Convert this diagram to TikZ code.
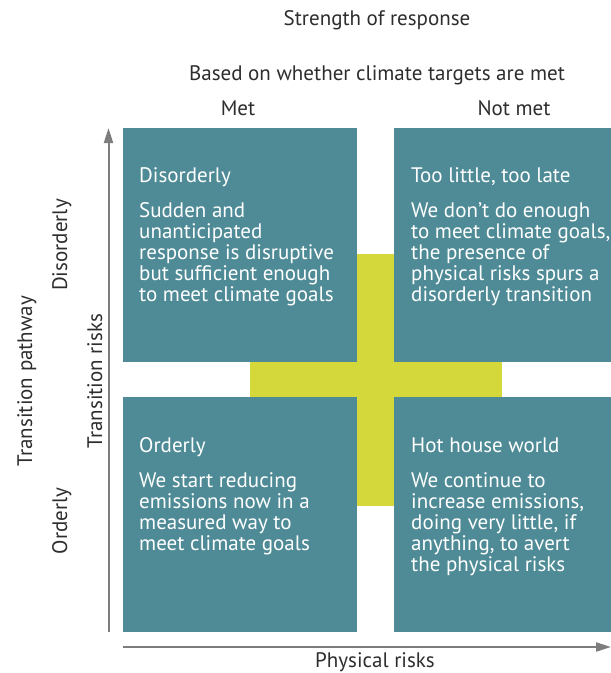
\documentclass[tikz,border=0pt]{standalone}
\usepackage{fontspec}
\setmainfont{PT Sans}
\usetikzlibrary{arrows.meta}
\definecolor{teal}{RGB}{78,139,150}
\definecolor{yell}{RGB}{212,216,58}
\definecolor{axisgray}{RGB}{125,125,125}
\definecolor{labgray}{RGB}{45,45,45}
\newcommand\qblock[2]{\vtop{\baselineskip=21pt\lineskiplimit=-10pt\hbox{#1}\vskip14pt#2}}
\newcommand\ql[1]{\hbox{#1}}
\tikzset{
  qbox/.style={fill=teal, draw=none, anchor=north west, minimum width=234pt, minimum height=234pt, inner sep=0pt},
  qtext/.style={text=white, anchor=base west, inner sep=0pt, font=\fontsize{21}{21}\selectfont},
  lab/.style={text=labgray, anchor=base, inner sep=0pt, font=\fontsize{21}{21}\selectfont},
  rlab/.style={lab, rotate=90},
  axis/.style={draw=axisgray, line width=2pt, -{Triangle[width=9pt,length=15pt]}}
}
\begin{document}
\begin{tikzpicture}[x=1pt,y=-1pt]
\useasboundingbox (0,0) rectangle (611,673);
% yellow square behind
\node[fill=yell, minimum size=252pt, inner sep=0pt] (cross) at (375.5,379.5) {};
% boxes
\node[qbox] (tl) at (123,128) {};
\node[qbox, minimum width=217pt] (tr) at (394,128) {};
\node[qbox, minimum height=235pt] (bl) at (123,397) {};
\node[qbox, minimum width=217pt, minimum height=235pt] (br) at (394,397) {};
% box texts
\node[qtext] (tlt) at ([shift={(16,54)}]tl.north west) {\qblock{Disorderly}{\ql{Sudden and}\ql{unanticipated}\ql{response is disruptive}\ql{but sufficient enough}\ql{to meet climate goals}}};
\node[qtext] (trt) at ([shift={(17,54)}]tr.north west) {\qblock{Too little, too late}{\ql{We don’t do enough}\ql{to meet climate goals,}\ql{the presence of}\ql{physical risks spurs a}\ql{disorderly transition}}};
\node[qtext] (blt) at ([shift={(16,55)}]bl.north west) {\qblock{Orderly}{\ql{We start reducing}\ql{emissions now in a}\ql{measured way to}\ql{meet climate goals}}};
\node[qtext] (brt) at ([shift={(17,55)}]br.north west) {\qblock{Hot house world}{\ql{We continue to}\ql{increase emissions,}\ql{doing very little, if}\ql{anything, to avert}\ql{the physical risks}}};
% header labels
\node[lab] (strength) at (377,25) {Strength of response};
\node[lab] (based) at (377,80) {Based on whether climate targets are met};
\node[lab] (met) at (238,115) {Met};
\node[lab] (notmet) at (514,115) {Not met};
\node[lab] (phys) at (375,667) {Physical risks};
% rotated labels
\node[rlab] (pathway) at (32,381) {Transition pathway};
\node[rlab] (trisks) at (102,381) {Transition risks};
\node[rlab] (disord) at (67,245) {Disorderly};
\node[rlab] (ord) at (67,521) {Orderly};
% axes
\coordinate (v0) at (108.5,632);
\coordinate (v1) at (108.5,128);
\coordinate (h0) at (123,647);
\coordinate (h1) at (611,647);
\draw[axis] (v0) -- (v1);
\draw[axis] (h0) -- (h1);
\end{tikzpicture}
\end{document}
